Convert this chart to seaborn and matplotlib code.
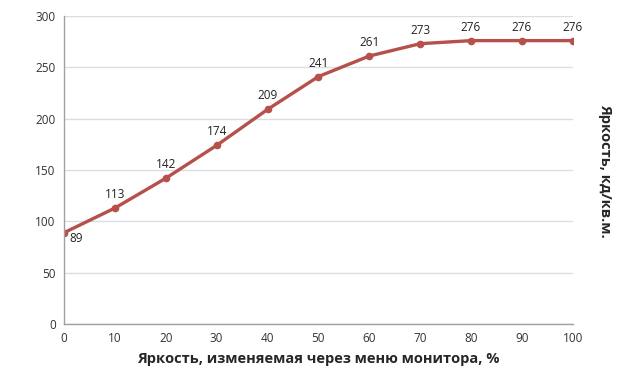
import seaborn as sns
import matplotlib.pyplot as plt
import pandas as pd

menu_brightness = [0, 10, 20, 30, 40, 50, 60, 70, 80, 90, 100]
luminance = [89, 113, 142, 174, 209, 241, 261, 273, 276, 276, 276]

def main():
    sns.set_style('white')
    plt.rcParams['font.family'] = ['Open Sans', 'DejaVu Sans']

    df = pd.DataFrame({'x': menu_brightness, 'y': luminance})

    fig = plt.figure(figsize=(6.4, 3.8), dpi=100)
    ax = fig.add_axes([0.1, 0.147, 0.795, 0.811])

    sns.lineplot(data=df, x='x', y='y', ax=ax, color='#B5504B', linewidth=2.4,
                 marker='o', markersize=5.5, markeredgewidth=0)

    for xv, yv in zip(menu_brightness, luminance):
        if xv == 0:
            ax.annotate(str(yv), (xv, yv), xytext=(4, -4), textcoords='offset points',
                        ha='left', va='center', fontsize=8.5, color='#222222')
        else:
            ax.annotate(str(yv), (xv, yv), xytext=(0, 5), textcoords='offset points',
                        ha='center', va='bottom', fontsize=8.5, color='#222222')

    ax.set_xlim(0, 100)
    ax.set_ylim(0, 300)
    ax.set_xticks(range(0, 101, 10))
    ax.set_yticks(range(0, 301, 50))
    ax.grid(axis='y', color='#D9DEE6', linewidth=1)
    ax.set_axisbelow(True)
    for side in ['top', 'right']:
        ax.spines[side].set_visible(False)
    for side in ['left', 'bottom']:
        ax.spines[side].set_color('#A0A0A0')
        ax.spines[side].set_linewidth(1)
    ax.tick_params(axis='both', which='both', direction='out', length=4,
                   color='#A0A0A0', labelsize=8.5, labelcolor='#333333', pad=2)

    ax.set_xlabel('Яркость, изменяемая через меню монитора, %', fontsize=10.5,
                  fontweight='bold', labelpad=5)
    ax.set_ylabel('')
    fig.text(0.945, 0.55, 'Яркость, кд/кв.м.', rotation=-90, fontsize=10.5,
             fontweight='bold', ha='center', va='center')

    plt.savefig('out.png', dpi=100)


if __name__ == "__main__":
    main()
